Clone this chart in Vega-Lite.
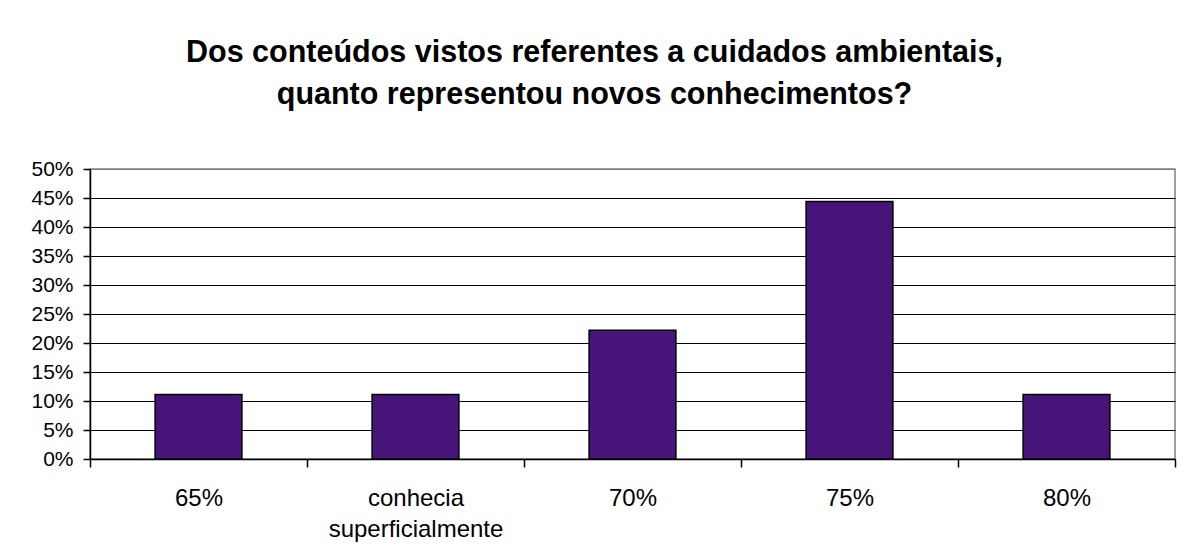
{
  "$schema": "https://vega.github.io/schema/vega-lite/v6.json",
  "autosize": {"type": "none"},
  "width": 1085,
  "height": 290,
  "padding": {"left": 90, "top": 169, "right": 7, "bottom": 101},
  "background": "white",
  "title": {
    "text": ["Dos conteúdos vistos referentes a cuidados ambientais,", "quanto representou novos conhecimentos?"],
    "font": "Liberation Sans",
    "fontSize": 30.5,
    "fontWeight": "bold",
    "color": "black",
    "anchor": "middle",
    "frame": "group",
    "dx": -38,
    "baseline": "bottom",
    "lineHeight": 42,
    "offset": 18
  },
  "data": {
    "values": [
      {"categoria": "65%", "valor": 0.111},
      {"categoria": "conhecia superficialmente", "valor": 0.111},
      {"categoria": "70%", "valor": 0.222},
      {"categoria": "75%", "valor": 0.444},
      {"categoria": "80%", "valor": 0.111}
    ]
  },
  "mark": {"type": "bar", "width": {"band": 0.4}, "fill": "#47157a", "stroke": "black", "strokeWidth": 1.5},
  "encoding": {
    "x": {
      "field": "categoria",
      "type": "nominal",
      "sort": null,
      "scale": {"paddingInner": 0, "paddingOuter": 0},
      "axis": {
        "title": null,
        "labelAngle": 0,
        "labelFont": "Liberation Sans",
        "labelFontSize": 24,
        "labelColor": "black",
        "labelLineHeight": 31,
        "labelExpr": "datum.label == 'conhecia superficialmente' ? ['conhecia', 'superficialmente'] : datum.label",
        "labelPadding": 19,
        "tickBand": "extent",
        "tickSize": 8,
        "tickColor": "black",
        "domainColor": "black",
        "domainWidth": 1.5,
        "tickWidth": 1.5,
        "grid": false
      }
    },
    "y": {
      "field": "valor",
      "type": "quantitative",
      "scale": {"domain": [0, 0.5], "nice": false},
      "axis": {
        "title": null,
        "format": ".0%",
        "values": [0, 0.05, 0.1, 0.15, 0.2, 0.25, 0.3, 0.35, 0.4, 0.45, 0.5],
        "labelFont": "Liberation Sans",
        "labelFontSize": 21,
        "labelColor": "black",
        "labelPadding": 10,
        "tickSize": 7,
        "tickColor": "black",
        "tickWidth": 1.5,
        "domainColor": "black",
        "domainWidth": 1.5,
        "grid": true,
        "gridColor": {"condition": {"test": "datum.value >= 0.5", "value": "#808080"}, "value": "black"},
        "gridWidth": 1.2,
        "gridOpacity": 1
      }
    }
  },
  "config": {
    "view": {"stroke": "#808080", "strokeWidth": 1.5}
  }
}
